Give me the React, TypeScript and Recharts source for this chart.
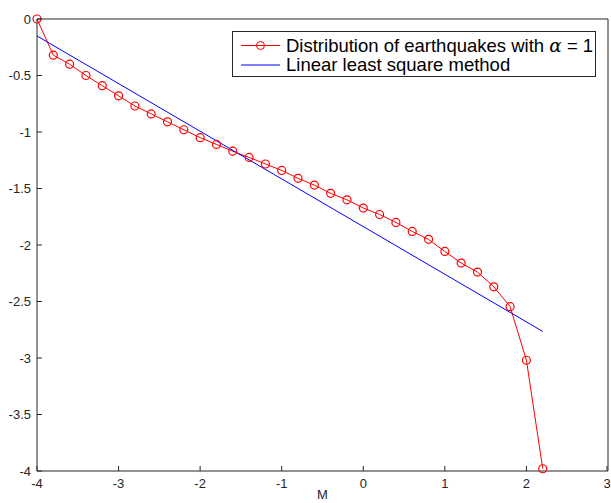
import { LineChart, Line, XAxis, YAxis, Label } from 'recharts'

// magnitude steps and log-frequency values
const M_VALUES = [
  -4, -3.8, -3.6, -3.4, -3.2, -3, -2.8, -2.6, -2.4, -2.2, -2, -1.8, -1.6, -1.4, -1.2, -1,
  -0.8, -0.6, -0.4, -0.2, 0, 0.2, 0.4, 0.6, 0.8, 1, 1.2, 1.4, 1.6, 1.8, 2, 2.2,
]
const LOG_N = [
  0, -0.32, -0.4, -0.5, -0.59, -0.68, -0.77, -0.84, -0.91, -0.98, -1.05, -1.11, -1.17, -1.225, -1.283, -1.34,
  -1.41, -1.47, -1.543, -1.6, -1.673, -1.73, -1.8, -1.88, -1.95, -2.057, -2.16, -2.24, -2.37, -2.546, -3.02, -3.98,
]
// least-squares line end points
const FIT_M = [-4, 2.2]
const FIT_LOG_N = [-0.15, -2.765]

const X_TICKS = [-4, -3, -2, -1, 0, 1, 2, 3]
const Y_TICKS = [0, -0.5, -1, -1.5, -2, -2.5, -3, -3.5, -4]

const AXIS = '#262626'
const FONT = '"Liberation Sans", Arial, sans-serif'
const GAP = 6
const TICK = 5

const quakes = M_VALUES.map((m, i) => ({ m, v: LOG_N[i] }))
const fit = FIT_M.map((m, i) => ({ m, v: FIT_LOG_N[i] }))

const LeftTick = (props: any) => {
  const { x, y, payload } = props
  return (
    <g>
      <line x1={x + GAP} x2={x + GAP + TICK} y1={y} y2={y} stroke={AXIS} />
      <text x={x} y={y} dy={4.5} textAnchor="end" fontSize={13} fill={AXIS} fontFamily={FONT}>
        {String(payload.value)}
      </text>
    </g>
  )
}

const BottomTick = (props: any) => {
  const { x, y, payload } = props
  return (
    <g>
      <line x1={x} x2={x} y1={y - GAP} y2={y - GAP - TICK} stroke={AXIS} />
      <text x={x} y={y} dy={11} textAnchor="middle" fontSize={13} fill={AXIS} fontFamily={FONT}>
        {String(payload.value)}
      </text>
    </g>
  )
}

const TopTick = (props: any) => {
  const { x, y } = props
  return <line x1={x} x2={x} y1={y} y2={y + TICK} stroke={AXIS} />
}

const RightTick = (props: any) => {
  const { x, y } = props
  return <line x1={x - TICK} x2={x} y1={y} y2={y} stroke={AXIS} />
}

function LegendBox() {
  return (
    <svg
      width={364}
      height={46}
      style={{ position: 'absolute', left: 232, top: 31 }}
    >
      <rect x={0.5} y={0.5} width={363} height={45} fill="#fff" stroke={AXIS} />
      <line x1={9} x2={48} y1={14.5} y2={14.5} stroke="#ff0000" />
      <circle cx={28.5} cy={14.5} r={4} fill="none" stroke="#ff0000" />
      <text x={54} y={20.5} fontSize={18.5} fill="#000" fontFamily={FONT}>
        Distribution of earthquakes with{' '}
        <tspan fontFamily='"DejaVu Serif", serif' fontStyle="italic">α</tspan> = 1
      </text>
      <line x1={9} x2={48} y1={34} y2={34} stroke="#0000ff" />
      <text x={54} y={40} fontSize={18.5} fill="#000" fontFamily={FONT}>
        Linear least square method
      </text>
    </svg>
  )
}

export default function App() {
  return (
    <div style={{ position: 'absolute', left: 0, top: 0, width: 611, height: 503, background: '#fff' }}>
      <LineChart width={611} height={503} margin={{ top: 18, right: 2, bottom: 31, left: 36 }}>
        <XAxis
          xAxisId="b"
          dataKey="m"
          type="number"
          domain={[-4, 3]}
          ticks={X_TICKS}
          height={1}
          tickSize={0}
          tickMargin={GAP}
          tickLine={false}
          tick={<BottomTick />}
          stroke={AXIS}
          allowDuplicatedCategory={false}
        >
          <Label value="M" position="bottom" offset={18} fontSize={13} fill={AXIS} fontFamily={FONT} />
        </XAxis>
        <XAxis
          xAxisId="t"
          orientation="top"
          dataKey="m"
          type="number"
          domain={[-4, 3]}
          ticks={X_TICKS}
          height={1}
          tickSize={0}
          tickMargin={0}
          tickLine={false}
          tick={<TopTick />}
          stroke={AXIS}
        />
        <YAxis
          yAxisId="l"
          type="number"
          domain={[-4, 0]}
          ticks={Y_TICKS}
          width={1}
          tickSize={0}
          tickMargin={GAP}
          tickLine={false}
          tick={<LeftTick />}
          stroke={AXIS}
        />
        <YAxis
          yAxisId="r"
          orientation="right"
          type="number"
          domain={[-4, 0]}
          ticks={Y_TICKS}
          width={1}
          tickSize={0}
          tickMargin={0}
          tickLine={false}
          tick={<RightTick />}
          stroke={AXIS}
        />
        <Line
          xAxisId="b"
          yAxisId="l"
          data={quakes}
          dataKey="v"
          stroke="#ff0000"
          strokeWidth={1}
          dot={{ r: 4, fill: 'none', stroke: '#ff0000', strokeWidth: 1.2 }}
          isAnimationActive={false}
        />
        <Line
          xAxisId="b"
          yAxisId="l"
          data={fit}
          dataKey="v"
          stroke="#0000ff"
          strokeWidth={1}
          dot={false}
          isAnimationActive={false}
        />
      </LineChart>
      <LegendBox />
    </div>
  )
}
